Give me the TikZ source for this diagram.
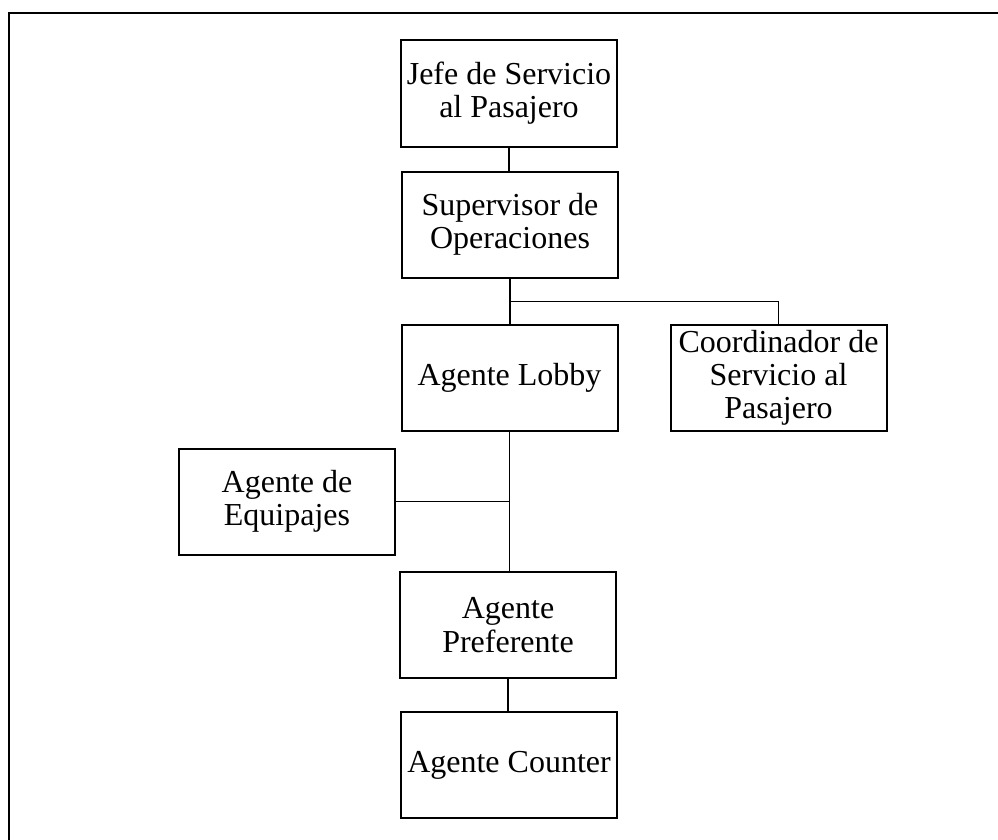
\documentclass[tikz,border=0pt]{standalone}
\usepackage{fontspec}
\setmainfont{Liberation Serif}
\begin{document}
\begin{tikzpicture}[x=1pt,y=-1pt,
  post/.style={draw,line width=2pt,minimum width=216pt,minimum height=106pt,
    inner sep=0pt,align=center,font=\fontsize{32}{29}\selectfont},
  link/.style={line width=1.2pt},
  branch/.style={line width=1pt}]
\useasboundingbox (0,0) rectangle (998,840);
% open page frame
\draw[line width=2pt] (9,845) -- (9,13.5) -- (1005,13.5);
% positions
\node[post] (jefe)    at (509,93.5)   {Jefe de Servicio\\[4pt]al Pasajero};
\node[post] (sup)     at (510,224.5)  {Supervisor de\\[4pt]Operaciones};
\node[post] (lobby)   at (509.5,378)  {Agente Lobby};
\node[post] (coord)   at (778.5,377.5){Coordinador de\\[4pt]Servicio al\\[4pt]Pasajero};
\node[post] (equip)   at (287,501.5)  {Agente de\\[4pt]Equipajes};
\node[post] (pref)    at (508,625)    {Agente\\[4pt]Preferente};
\node[post] (counter) at (509,765)    {Agente Counter};
% reporting lines
\coordinate (jn1) at (sup.south |- 0,301);
\coordinate (jn2) at (lobby.south |- equip.east);
\draw[link] (jefe.south) -- (jefe.south |- sup.north);
\draw[link] (sup.south) -- (sup.south |- lobby.north);
\draw[branch] (jn1) -| (coord.north);
\draw[link] (lobby.south) -- (lobby.south |- pref.north);
\draw[branch] (jn2) -- (equip.east);
\draw[link] (pref.south) -- (pref.south |- counter.north);
\end{tikzpicture}
\end{document}
